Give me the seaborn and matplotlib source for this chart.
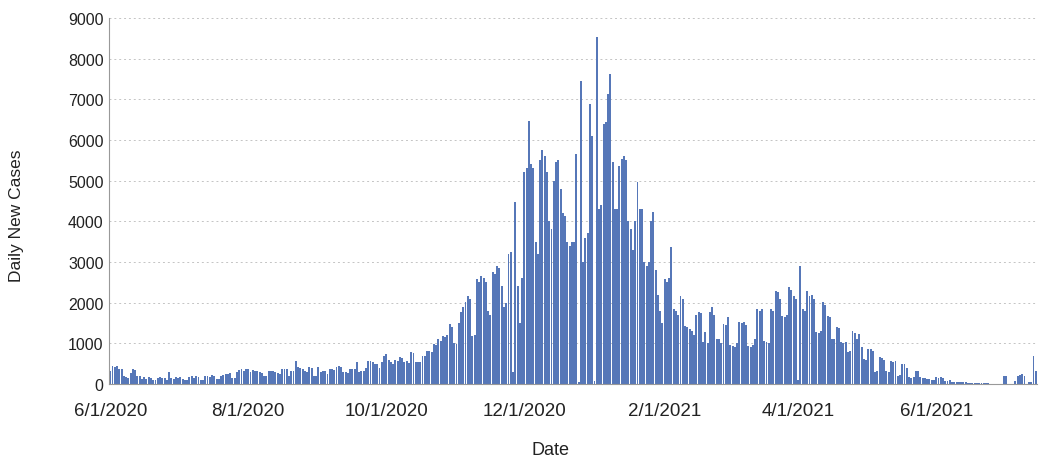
import pandas as pd
import matplotlib.pyplot as plt
import seaborn as sns

# daily new cases
jun_2020 = [320, 440, 430, 450, 380, 370, 200, 180, 150, 260, 370, 340, 200, 190, 120,
            170, 130, 170, 160, 110, 100, 150, 170, 140, 160, 110, 290, 150, 130, 170]
jul_2020 = [150, 180, 120, 90, 100, 170, 200, 160, 190, 180, 110, 100, 190, 200, 170, 210,
            190, 130, 120, 200, 230, 250, 240, 260, 160, 150, 300, 350, 370, 320, 380]
aug_2020 = [380, 300, 350, 320, 330, 300, 280, 200, 190, 320, 310, 330, 300, 260, 250, 370,
            360, 370, 200, 320, 310, 570, 410, 400, 380, 320, 300, 410, 400, 200, 190]
sep_2020 = [420, 300, 330, 320, 250, 380, 370, 350, 420, 440, 430, 300, 290, 280, 380,
            370, 360, 540, 300, 320, 330, 400, 570, 560, 550, 490, 480, 400, 540, 700]
oct_2020 = [740, 600, 550, 500, 580, 560, 660, 650, 550, 570, 520, 780, 760, 540, 550, 530,
            690, 680, 810, 800, 790, 980, 950, 1100, 1050, 1180, 1150, 1200, 1470, 1400, 1000]
nov_2020 = [980, 1500, 1770, 1900, 2010, 2160, 2100, 1180, 1200, 2580, 2500, 2650, 2600, 2500, 1800,
            1700, 2750, 2700, 2900, 2850, 2400, 1900, 2000, 3200, 3240, 300, 4470, 2400, 1500, 2600]
dec_2020 = [5200, 5300, 6460, 5400, 5300, 3500, 3200, 5500, 5750, 5600, 5200, 4000, 3800, 5000, 5450, 5500,
            4800, 4200, 4130, 3500, 3400, 3500, 3500, 5650, 50, 7440, 3000, 3600, 3700, 6880, 6100]
jan_2021 = [80, 8530, 4300, 4400, 6400, 6430, 7130, 7620, 5450, 4300, 4300, 5350, 5530, 5600, 5500, 4000,
            3800, 3300, 4000, 4960, 4300, 4300, 3000, 2900, 3000, 4000, 4220, 2800, 2200, 1800, 1500]
feb_2021 = [2580, 2500, 2600, 3360, 1840, 1800, 1700, 2160, 2100, 1430, 1400, 1350, 1300, 1200,
            1700, 1770, 1750, 1030, 1280, 1000, 1770, 1890, 1700, 1110, 1100, 1000, 1470, 1450]
mar_2021 = [1640, 950, 940, 900, 1000, 1520, 1500, 1520, 1450, 940, 900, 950, 1100, 1840, 1800, 1850,
            1050, 1030, 1000, 1840, 1800, 2290, 2250, 2090, 1670, 1650, 1700, 2380, 2300, 2160, 2100]
apr_2021 = [100, 2900, 1840, 1800, 2290, 2160, 2200, 2100, 1280, 1250, 1300, 2010, 1950, 1670, 1650,
            1110, 1100, 1400, 1380, 1030, 1000, 1030, 780, 800, 1300, 1250, 1110, 1230, 900, 610]
may_2021 = [600, 860, 850, 800, 300, 320, 660, 650, 600, 330, 300, 570, 550, 560, 200, 220,
            490, 480, 400, 170, 160, 180, 330, 320, 170, 150, 160, 120, 120, 100, 90]
jun_2021 = [170, 160, 170, 150, 80, 70, 90, 60, 50, 55, 50, 40, 45, 50, 30,
            35, 30, 25, 30, 35, 30, 25, 30, 20, 0, 0, 0, 0, 0, 0]
jul_2021 = [200, 190, 0, 0, 0, 80, 200, 230, 250, 190, 0, 40, 50, 690, 320]

tick_labels = ["6/1/2020", "8/1/2020", "10/1/2020", "12/1/2020", "2/1/2021", "4/1/2021", "6/1/2021"]

cases = (jun_2020 + jul_2020 + aug_2020 + sep_2020 + oct_2020 + nov_2020 + dec_2020
         + jan_2021 + feb_2021 + mar_2021 + apr_2021 + may_2021 + jun_2021 + jul_2021)
start = pd.Timestamp("2020-06-01")
df = pd.DataFrame({"day": range(len(cases)), "cases": cases})
df["date"] = start + pd.to_timedelta(df["day"], unit="D")

sns.set_theme(style="white")
plt.rcParams["font.family"] = ["Liberation Sans", "DejaVu Sans"]

fig = plt.figure(figsize=(10.39, 4.6), dpi=100)
ax = fig.add_axes([0.105, 0.163, 0.893, 0.796])

sns.barplot(data=df, x="day", y="cases", color="#5677b8", saturation=1,
            width=0.85, linewidth=0, ax=ax)

tick_pos = [(pd.to_datetime(t, format="%m/%d/%Y") - start).days for t in tick_labels]
ax.set_xticks(tick_pos, tick_labels)
ax.set_xlim(-0.5, len(cases) - 0.5)
ax.set_ylim(0, 9000)
ax.set_yticks(range(0, 9001, 1000))

ax.yaxis.grid(True, color="#c4c4c4", linestyle=(0, (2, 3)), linewidth=0.7)
ax.set_axisbelow(True)
for s in ["top", "right"]:
    ax.spines[s].set_visible(False)
for s in ["left", "bottom"]:
    ax.spines[s].set_color("#999999")
    ax.spines[s].set_linewidth(0.8)

ax.tick_params(axis="y", labelsize=11.5, colors="#222222", length=0, pad=4)
ax.tick_params(axis="x", labelsize=13.5, colors="#222222", length=0, pad=13)
ax.set_xlabel("Date", fontsize=13, color="#222222")
ax.set_ylabel("Daily New Cases", fontsize=12.5, color="#222222")
ax.xaxis.set_label_coords(0.476, -0.156)
ax.yaxis.set_label_coords(-0.092, 0.462)

plt.savefig("out.png", dpi=100)
